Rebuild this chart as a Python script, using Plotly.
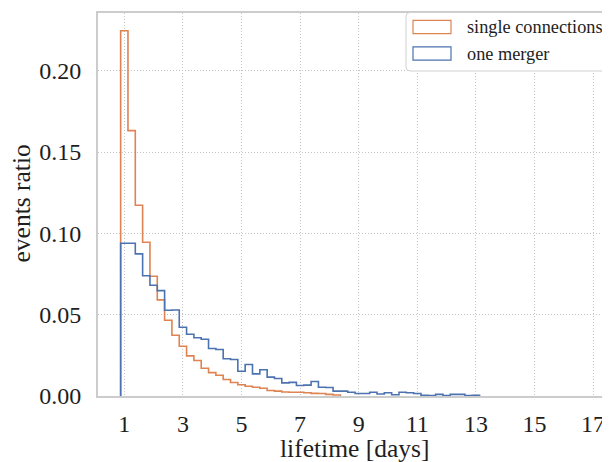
import numpy as np
import plotly.graph_objects as go

# ---- data ----
bin_start = 0.875
bin_width = 0.25
single_connections = [0.2246, 0.1632, 0.1173, 0.0945, 0.0736, 0.0591, 0.0466, 0.0374, 0.0306, 0.0247,
                      0.0218, 0.0171, 0.0144, 0.0128, 0.0101, 0.0083, 0.0069, 0.0060, 0.0054, 0.0048,
                      0.0034, 0.0030, 0.0025, 0.0023, 0.0023, 0.0020, 0.0016, 0.0015, 0.0010, 0.0006]
one_merger = [0.0939, 0.0939, 0.0874, 0.0739, 0.0681, 0.0648, 0.0527, 0.0529, 0.0423, 0.0380,
              0.0358, 0.0349, 0.0292, 0.0286, 0.0229, 0.0224, 0.0152, 0.0194, 0.0136, 0.0161,
              0.0116, 0.0108, 0.0081, 0.0084, 0.0065, 0.0067, 0.0089, 0.0054, 0.0052, 0.0030,
              0.0030, 0.0023, 0.0015, 0.0015, 0.0023, 0.0012, 0.0020, 0.0008, 0.0023, 0.0020,
              0.0015, 0.0005, 0.0003, 0.0010, 0.0003, 0.0010, 0.0010, 0.0002, 0.0005]
x_ticks = [1, 3, 5, 7, 9, 11, 13, 15, 17]
y_ticks = [0.00, 0.05, 0.10, 0.15, 0.20]
series_names = ["single connections", "one merger"]
colors = ["#dd8452", "#4c72b0"]
x_title = "lifetime [days]"
y_title = "events ratio"

FONT = "Liberation Serif"
TXT = "#1e1e1e"


def step_xy(values):
    vals = np.asarray(values, dtype=float)
    edges = bin_start + bin_width * np.arange(len(vals) + 1)
    xs = np.concatenate([[edges[0]], edges[:-1], [edges[-1]]])
    ys = np.concatenate([[0.0], vals, [0.0]])
    return xs, ys


fig = go.Figure()
for vals, name, col in zip([single_connections, one_merger], series_names, colors):
    xs, ys = step_xy(vals)
    fig.add_trace(go.Scatter(x=xs, y=ys, mode="lines", name=name,
                             line=dict(color=col, width=1.6, shape="hv"),
                             showlegend=False, hoverinfo="skip"))

# page offset from the default body margin of the html page
OFF = 8
W, H = 610 - OFF, 462 - OFF
# plot area in page pixels
L, R, T, B = 98, 610, 13, 396
PW, PH = R - L, B - T


def px(xp):
    return (xp - L) / PW


def py(yp):
    return (B - yp) / PH


# legend frame (rounded), drawn manually
x0, x1, y0, y1, r = 406, 640, 12.5, 71, 4
path = (f"M{px(x0 + r)},{py(y0)} L{px(x1)},{py(y0)} L{px(x1)},{py(y1)} "
        f"L{px(x0 + r)},{py(y1)} Q{px(x0)},{py(y1)} {px(x0)},{py(y1 - r)} "
        f"L{px(x0)},{py(y0 + r)} Q{px(x0)},{py(y0)} {px(x0 + r)},{py(y0)} Z")
shapes = [dict(type="path", path=path, xref="paper", yref="paper",
               fillcolor="white", line=dict(color="#d0d0d0", width=1), layer="above")]
annotations = []
for i, (name, col) in enumerate(zip(series_names, colors)):
    cy = 27 + i * 26.5
    shapes.append(dict(type="rect", xref="paper", yref="paper",
                       x0=px(413), x1=px(451), y0=py(cy - 6.7), y1=py(cy + 6.7),
                       line=dict(color=col, width=1.2), fillcolor="rgba(0,0,0,0)", layer="above"))
    annotations.append(dict(text=name, xref="paper", yref="paper", x=px(465), y=py(cy),
                            xanchor="left", yanchor="middle", showarrow=False,
                            font=dict(family=FONT, size=18.3, color=TXT)))

# axis titles
annotations.append(dict(text=y_title, xref="paper", yref="paper", x=px(20.5), y=py(204),
                        xanchor="center", yanchor="middle", textangle=-90, showarrow=False,
                        font=dict(family=FONT, size=25.5, color=TXT)))
annotations.append(dict(text=x_title, xref="paper", yref="paper", x=px(354), y=py(449),
                        xanchor="center", yanchor="middle", showarrow=False,
                        font=dict(family=FONT, size=25.5, color=TXT)))

fig.update_layout(
    width=W, height=H,
    margin=dict(l=L - OFF, r=0, t=T - OFF, b=(H + OFF) - B, pad=0),
    paper_bgcolor="white", plot_bgcolor="white",
    showlegend=False,
    shapes=shapes, annotations=annotations,
    font=dict(family=FONT, color=TXT),
)
fig.update_xaxes(
    range=[0.102, 17.577], tickmode="array", tickvals=x_ticks,
    ticktext=[str(v) for v in x_ticks],
    tickfont=dict(family=FONT, size=24, color=TXT),
    showgrid=True, gridcolor="#c4c4c4", gridwidth=1, griddash="1px,2px",
    showline=True, linecolor="#cccccc", linewidth=2, mirror=True,
    zeroline=False, ticks="", ticklabelstandoff=5,
    automargin=False,
)
fig.update_yaxes(
    range=[0, 0.2355], tickmode="array", tickvals=y_ticks,
    ticktext=[f"{v:.2f}" for v in y_ticks],
    tickfont=dict(family=FONT, size=24, color=TXT),
    showgrid=True, gridcolor="#c4c4c4", gridwidth=1, griddash="1px,2px",
    showline=True, linecolor="#cccccc", linewidth=2, mirror=False,
    zeroline=False, ticks="", ticklabelstandoff=10,
    automargin=False,
)

fig.write_html("out.html")
